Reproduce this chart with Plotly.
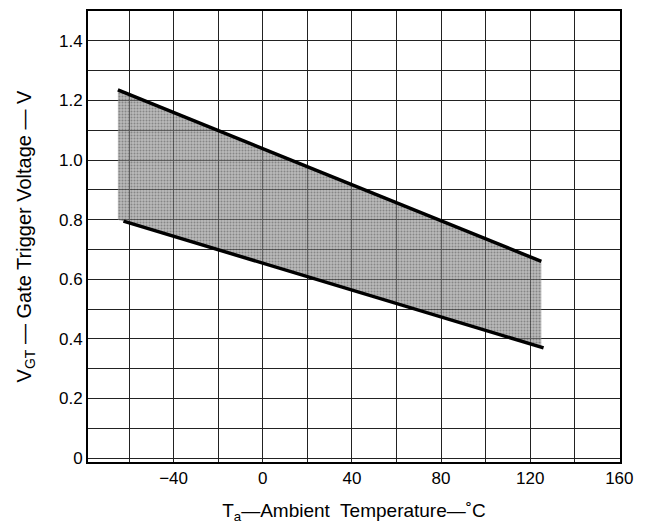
import plotly.graph_objects as go

# Data
temp_upper = [-65, 125]
vgt_upper = [1.235, 0.66]
temp_lower = [-62.5, 126]
vgt_lower = [0.795, 0.37]

band_temp = [-65, 125]
band_top = [1.235, 0.66]
band_bottom = [0.80, 0.375]

x_ticks = [-40, 0, 40, 80, 120, 160]
x_tick_text = ["\u221240", "0", "40", "80", "120", "160"]
y_ticks = [0, 0.2, 0.4, 0.6, 0.8, 1.0, 1.2, 1.4]
y_tick_text = ["0", "0.2", "0.4", "0.6", "0.8", "1.0", "1.2", "1.4"]

fig = go.Figure()

# shaded band polygon
poly_x = band_temp + band_temp[::-1]
poly_y = band_top + band_bottom[::-1]
fig.add_trace(go.Scatter(
    x=poly_x, y=poly_y, fill="toself", mode="lines",
    line=dict(width=0, color="rgba(0,0,0,0)"),
    fillcolor="rgba(80,80,80,0.55)",
    fillpattern=dict(shape=".", fgcolor="rgba(25,25,25,0.65)",
                     bgcolor="rgba(140,140,140,0.6)", size=3, solidity=0.35),
    hoverinfo="skip", showlegend=False,
))

fig.add_trace(go.Scatter(x=temp_upper, y=vgt_upper, mode="lines",
                         line=dict(color="black", width=3.5), showlegend=False))
fig.add_trace(go.Scatter(x=temp_lower, y=vgt_lower, mode="lines",
                         line=dict(color="black", width=3.5), showlegend=False))

font = dict(family="Liberation Sans, Arial, sans-serif", size=17, color="black")

fig.update_layout(
    width=649, height=527,
    margin=dict(l=88, r=29, t=9, b=63),
    paper_bgcolor="white", plot_bgcolor="white",
    font=font,
    showlegend=False,
)
fig.update_xaxes(
    range=[-78.4, 160.3],
    tickvals=x_ticks, ticktext=x_tick_text,
    showgrid=True, gridcolor="#222", gridwidth=1,
    minor=dict(dtick=20, tick0=0, showgrid=True, gridcolor="#222", gridwidth=1),
    showline=True, linecolor="black", linewidth=2, mirror=True,
    ticks="", zeroline=False,
    title=dict(text="T<sub>a</sub>\u2014Ambient  Temperature\u2014\u02daC",
               font=dict(size=19), standoff=16),
)
fig.update_yaxes(
    range=[-0.013, 1.5],
    tickvals=y_ticks, ticktext=y_tick_text,
    showgrid=True, gridcolor="#222", gridwidth=1,
    minor=dict(dtick=0.1, tick0=0, showgrid=True, gridcolor="#222", gridwidth=1),
    showline=True, linecolor="black", linewidth=2, mirror=True,
    ticks="", zeroline=False,
    title=dict(text="V<sub>GT</sub> \u2014 Gate Trigger Voltage \u2014 V",
               font=dict(size=20), standoff=22),
)

fig.write_html("out.html")
